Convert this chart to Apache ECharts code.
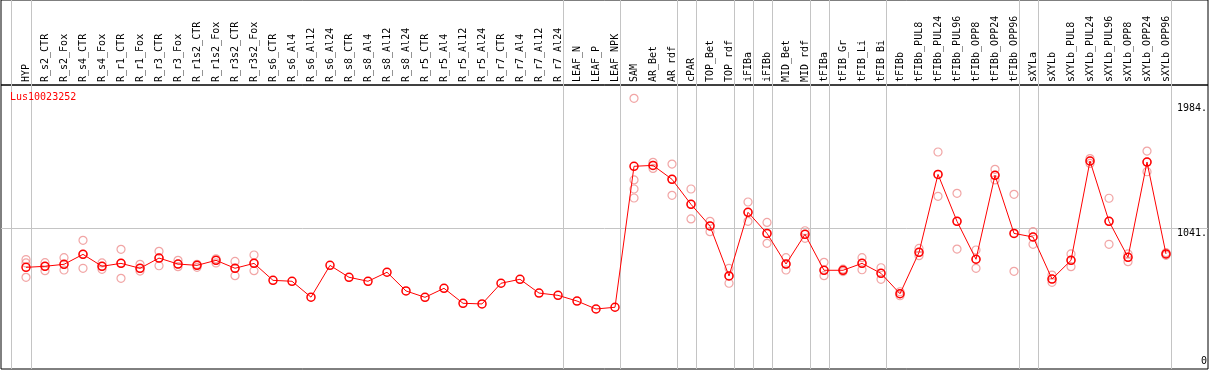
<!DOCTYPE html>
<html><head><meta charset="utf-8">
<script src="https://cdn.jsdelivr.net/npm/echarts@6/dist/echarts.min.js"></script>
<style>html,body{margin:0;padding:0;background:#fff}#c{width:1209px;height:370px}</style>
</head><body><div id="c"></div>
<script>
const geneName = 'Lus10023252';
const categories = ['HYP','R_s2_CTR','R_s2_Fox','R_s4_CTR','R_s4_Fox','R_r1_CTR','R_r1_Fox','R_r3_CTR','R_r3_Fox','R_r1s2_CTR','R_r1s2_Fox','R_r3s2_CTR','R_r3s2_Fox','R_s6_CTR','R_s6_Al4','R_s6_Al12','R_s6_Al24','R_s8_CTR','R_s8_Al4','R_s8_Al12','R_s8_Al24','R_r5_CTR','R_r5_Al4','R_r5_Al12','R_r5_Al24','R_r7_CTR','R_r7_Al4','R_r7_Al12','R_r7_Al24','LEAF_N','LEAF_P','LEAF_NPK','SAM','AR_Bet','AR_rdf','cPAR','TOP_Bet','TOP_rdf','iFIBa','iFIBb','MID_Bet','MID_rdf','tFIBa','tFIB_Gr','tFIB_Li','tFIB_Bi','tFIBb','tFIBb_PUL8','tFIBb_PUL24','tFIBb_PUL96','tFIBb_OPP8','tFIBb_OPP24','tFIBb_OPP96','sXYLa','sXYLb','sXYLb_PUL8','sXYLb_PUL24','sXYLb_PUL96','sXYLb_OPP8','sXYLb_OPP24','sXYLb_OPP96'];
const means = [744,752,767,842,752,774,737,814,769,759,797,737,774,646,639,519,759,669,639,707,566,518,586,473,468,624,654,550,533,490,430,443,1506,1513,1408,1219,1056,679,1159,1000,769,993,722,722,774,699,545,857,1445,1091,805,1438,1000,973,656,797,1546,1091,820,1538,845];
const replicates = [
  [803,777,669],[779,752,719],[817,767,724],[948,842,737],[777,752,729],[880,774,661],[767,737,716],[865,814,756],[797,769,749],[767,759,744],[809,797,777],[789,737,681],[837,774,719],
  [],[],[],[],[],[],[],[],[],[],[],[],[],[],[],[],[],[],[],
  [2019,1403,1335,1267],[1536,1513,1490],[1523,1408,1287],[1335,1219,1109],[1091,1056,1013],[737,679,624],[1237,1159,1091],[1083,1000,925],[817,769,724],[1020,993,963],[782,722,681],[730,722,712],[817,774,726],[741,699,654],[560,545,530],[887,857,832],[1614,1445,1280],[1302,1091,882],[875,805,737],[1483,1438,1403],[1295,1000,714],[1013,973,918],[686,656,631],[845,797,749],[1564,1546,1528],[1265,1091,918],[845,820,787],[1621,1538,1465],[855,845,835]
];
const groupEndsAfter = [0,28,31,34,35,37,38,39,41,42,45,52,53,60];
const tickValues = [0, 1041, 1984];
const tickLabels = ['0', '1041.', '1984.'];

const XMIN = -1.316, XMAX = 62.21;
const YMIN = -22.6, YMAX = 2119.2;
const vLines = [-0.8].concat(groupEndsAfter.map(i => i + 0.25));
const grey = '#c4c4c4';
const mono = 'DejaVu Sans Mono';

const repData = [];
replicates.forEach((arr, i) => arr.forEach(v => repData.push([i, v])));

const vLineItems = vLines.map(x => ({xAxis: x, lineStyle: {color: grey, width: 1, type: 'solid'}, label: {show: false}}));
const hLineItems = tickValues.map((v, k) => ({
  yAxis: v,
  lineStyle: {color: v === 1041 ? grey : 'rgba(0,0,0,0)', width: 1, type: 'solid'},
  label: {show: true, formatter: tickLabels[k], position: v === 0 ? 'insideEndTop' : 'insideEndBottom',
          distance: [1, 0], color: '#000', fontFamily: mono, fontSize: 10}
}));

const chart = echarts.init(document.getElementById('c'), null, {renderer: 'canvas'});
chart.setOption({
  animation: false,
  title: {text: geneName, left: 10, top: 92, padding: 0, textStyle: {color: '#ff0000', fontFamily: mono, fontSize: 10, fontWeight: 'normal'}},
  grid: [
    {left: 1, right: 1, top: 0, height: 85, show: true, borderColor: '#000', borderWidth: 1, backgroundColor: 'transparent'},
    {left: 1, right: 1, top: 85, height: 284, show: true, borderColor: '#000', borderWidth: 1, backgroundColor: 'transparent'}
  ],
  xAxis: [
    {type: 'value', gridIndex: 0, min: XMIN, max: XMAX, show: false},
    {type: 'value', gridIndex: 1, min: XMIN, max: XMAX, position: 'top',
     axisLine: {show: false}, axisTick: {show: false}, splitLine: {show: false},
     axisLabel: {customValues: categories.map((_, i) => i), rotate: 90, margin: 3,
                 formatter: v => categories[Math.round(v)], color: '#000', fontFamily: mono, fontSize: 10}}
  ],
  yAxis: [
    {type: 'value', gridIndex: 0, min: 0, max: 1, show: false},
    {type: 'value', gridIndex: 1, min: YMIN, max: YMAX, show: false}
  ],
  series: [
    {type: 'line', xAxisIndex: 0, yAxisIndex: 0, data: [[0, 0.5]], showSymbol: false, symbol: 'none',
     lineStyle: {width: 0}, silent: true,
     markLine: {silent: true, symbol: ['none', 'none'], data: vLineItems.map(o => Object.assign({}, o))}},
    {type: 'scatter', xAxisIndex: 1, yAxisIndex: 1, data: repData, symbol: 'circle', symbolSize: 8, z: 2,
     itemStyle: {color: 'rgba(255,255,255,0)', borderColor: '#ee8e8e', borderWidth: 1.2}},
    {type: 'line', xAxisIndex: 1, yAxisIndex: 1, data: means.map((v, i) => [i, v]), symbol: 'circle', symbolSize: 8, z: 3,
     lineStyle: {color: '#ff0000', width: 1}, itemStyle: {color: 'rgba(255,255,255,0)', borderColor: '#ff0000', borderWidth: 1.5},
     markLine: {silent: true, symbol: ['none', 'none'], z: 1, data: vLineItems.concat(hLineItems)}}
  ]
});
</script></body></html>
